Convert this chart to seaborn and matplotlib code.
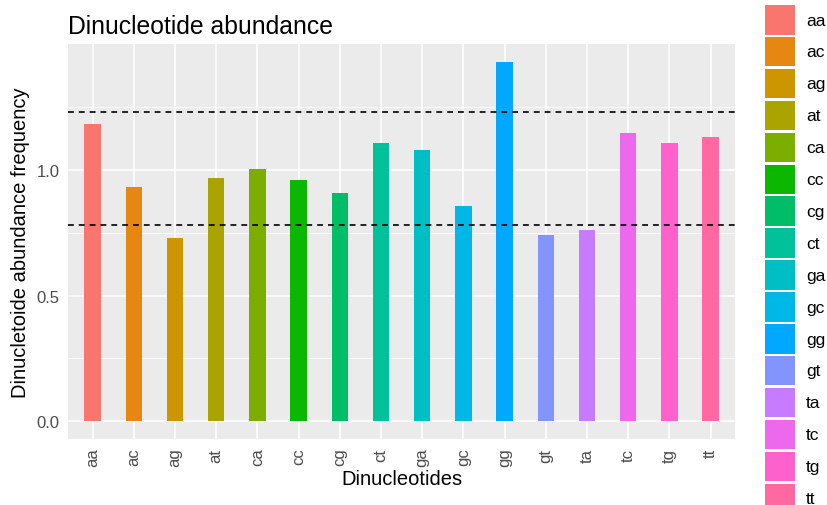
import pandas as pd
import matplotlib.pyplot as plt
import seaborn as sns
from matplotlib.patches import Rectangle

# Dinucleotide abundance values
dinucs = ['aa', 'ac', 'ag', 'at', 'ca', 'cc', 'cg', 'ct',
          'ga', 'gc', 'gg', 'gt', 'ta', 'tc', 'tg', 'tt']
abundance = [1.184, 0.930, 0.730, 0.969, 1.002, 0.958, 0.909, 1.105,
             1.080, 0.858, 1.429, 0.742, 0.760, 1.146, 1.108, 1.131]
bounds = [0.78, 1.23]

# ggplot default hue palette for 16 levels
colors = ['#F8766D', '#E68613', '#CD9600', '#ABA300', '#7CAE00', '#0CB702',
          '#00BE67', '#00C19A', '#00BFC4', '#00B8E7', '#00A9FF', '#8494FF',
          '#C77CFF', '#ED68ED', '#FF61CC', '#FF68A1']

df = pd.DataFrame({'Dinucleotides': dinucs, 'freq': abundance})

sns.set_style('white')
plt.rcParams['font.family'] = ['Liberation Sans', 'DejaVu Sans']

fig = plt.figure(figsize=(8.28, 5.06), dpi=100)
ax = fig.add_axes([0.082, 0.130, 0.806, 0.781])
ax.set_facecolor('#EBEBEB')

sns.barplot(data=df, x='Dinucleotides', y='freq', hue='Dinucleotides',
            palette=colors, width=0.4, saturation=1, linewidth=0,
            legend=False, ax=ax, zorder=3)

for b in bounds:
    ax.axhline(b, color='black', linestyle=(0, (3.5, 3)), linewidth=1.2, zorder=4)

# ggplot-like panel
ax.set_ylim(-0.0715, 1.5005)
ax.set_xlim(-0.6, len(dinucs) - 0.4)
ax.set_yticks([0.0, 0.5, 1.0])
ax.set_yticklabels(['0.0', '0.5', '1.0'])
ax.set_yticks([0.25, 0.75, 1.25], minor=True)
ax.grid(which='major', color='white', linewidth=1.1, zorder=0)
ax.grid(which='minor', axis='y', color='white', linewidth=0.55, zorder=0)
ax.set_axisbelow(True)
for s in ax.spines.values():
    s.set_visible(False)

ax.tick_params(axis='both', which='major', length=3, color='#333333',
               labelcolor='#4D4D4D', labelsize=12, direction='out', pad=3)
ax.tick_params(axis='y', which='minor', length=0)
plt.setp(ax.get_xticklabels(), rotation=90)

ax.set_xlabel('Dinucleotides', fontsize=14.5, color='black', labelpad=2)
ax.set_ylabel('Dinucletoide abundance frequency', fontsize=14.5, color='black', labelpad=5)
ax.set_title('Dinucleotide abundance', fontsize=17.8, loc='left', pad=8, color='black')

# legend drawn as in ggplot (keys run off the bottom of the figure)
lax = fig.add_axes([0, 0, 1, 1])
lax.set_xlim(0, 828)
lax.set_ylim(506, 0)
lax.axis('off')
for i, (lab, c) in enumerate(zip(dinucs, colors)):
    top = 6 + 31.9 * i
    lax.add_patch(Rectangle((765, top), 30.5, 29.5, facecolor=c, edgecolor='none'))
    lax.text(806, top + 15, lab, fontsize=12.5, va='center', ha='left', color='black')

plt.savefig('out.png', dpi=100)
